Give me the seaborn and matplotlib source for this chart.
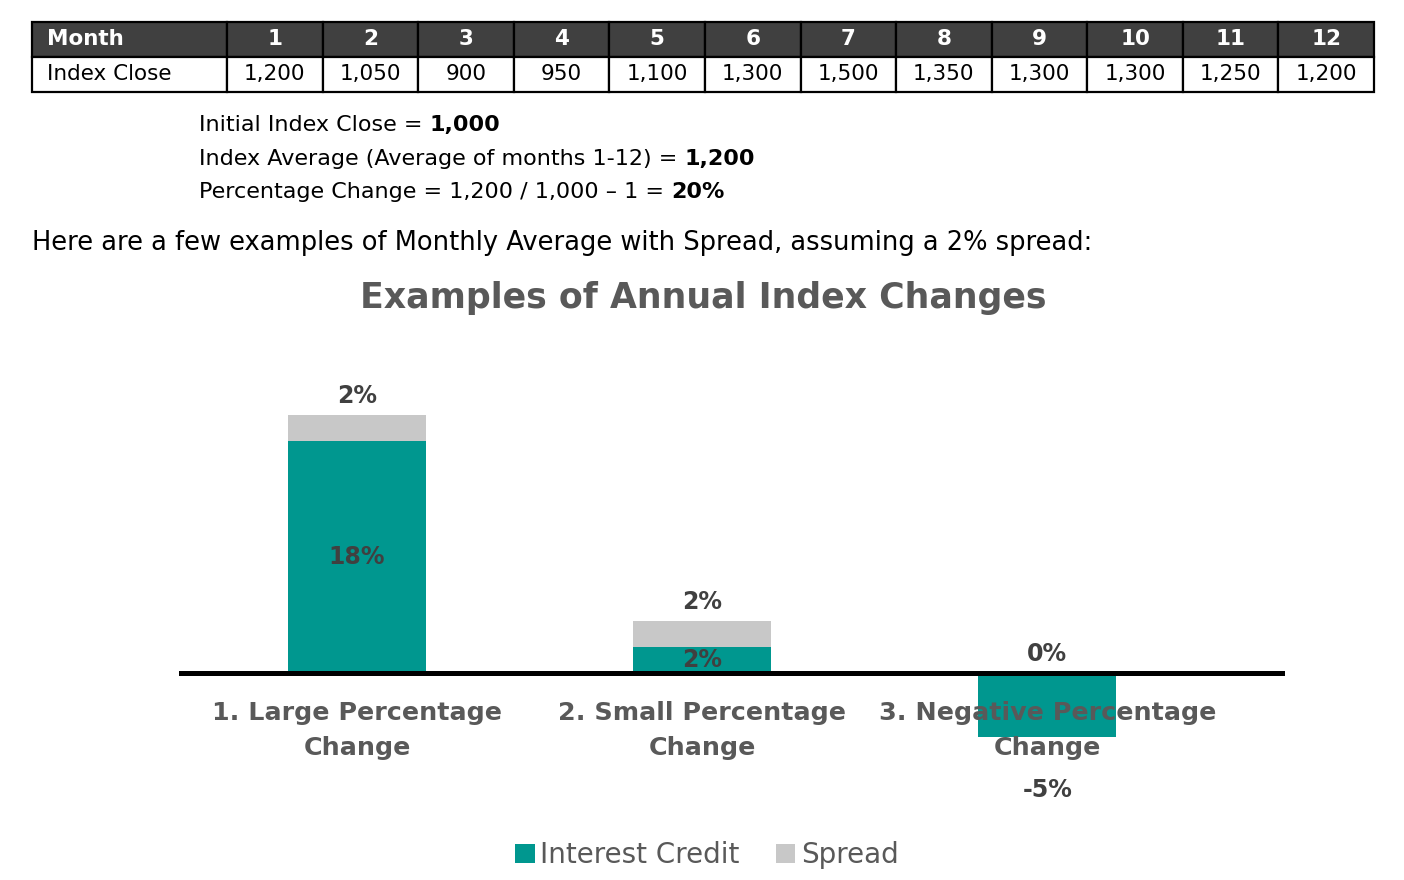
import matplotlib
matplotlib.use("Agg")
import matplotlib.pyplot as plt
import seaborn as sns
import pandas as pd

# ---------------- data ----------------
months = [str(i) for i in range(1, 13)]
index_close = ["1,200", "1,050", "900", "950", "1,100", "1,300",
               "1,500", "1,350", "1,300", "1,300", "1,250", "1,200"]

info_lines = [
    [("Initial Index Close = ", "normal"), ("1,000", "bold")],
    [("Index Average (Average of months 1-12) = ", "normal"), ("1,200", "bold")],
    [("Percentage Change = 1,200 / 1,000 \u2013 1 = ", "normal"), ("20%", "bold")],
]
intro = "Here are a few examples of Monthly Average with Spread, assuming a 2% spread:"
title = "Examples of Annual Index Changes"

categories = ["1. Large Percentage\nChange", "2. Small Percentage\nChange",
              "3. Negative Percentage\nChange"]
interest_credit = [18, 2, -5]
spread = [2, 2, 0]

TEAL = "#00978F"
GREY = "#C8C8C8"
DARK = "#404040"
MID = "#595959"

sns.set_theme(style="white")
plt.rcParams['font.family'] = ['DejaVu Sans']

W, H = 1404, 880
fig = plt.figure(figsize=(W / 100, H / 100), dpi=100)


def fx(px):
    return px / W


def fy(py):
    return 1 - py / H


# ---------------- table ----------------
tax = fig.add_axes([fx(32), fy(92), (1374 - 32) / W, 70 / H])
tax.axis("off")
first_w = 195 / 1342
other_w = (1 - first_w) / 12
tbl = tax.table(cellText=[["Index Close"] + index_close],
                colLabels=["Month"] + months,
                colWidths=[first_w] + [other_w] * 12,
                cellLoc="center", bbox=[0, 0, 1, 1])
tbl.auto_set_font_size(False)
tbl.set_fontsize(15.5)
for (r, c), cell in tbl.get_celld().items():
    cell.set_edgecolor("black")
    cell.set_linewidth(1.6)
    if r == 0:
        cell.set_facecolor("#404040")
        cell.get_text().set_color("white")
        cell.get_text().set_fontweight("bold")
    else:
        cell.set_facecolor("white")
        cell.get_text().set_color("black")
    if c == 0:
        cell.get_text().set_horizontalalignment("left")
        cell._loc = "left"
        cell.PAD = 0.075

# ---------------- text block ----------------
bg = fig.add_axes([0, 0, 1, 1], zorder=-1)
bg.axis("off")
ys = [125, 159, 192]
for parts, y in zip(info_lines, ys):
    t = bg.text(fx(199), fy(y), parts[0][0], fontweight=parts[0][1], fontsize=16,
                va="center", ha="left", color="black", transform=bg.transAxes)
    for s, w in parts[1:]:
        t = bg.annotate(s, xy=(1, 0), xycoords=t, va="bottom", ha="left",
                        fontweight=w, fontsize=16, color="black")

bg.text(fx(32), fy(243), intro, fontsize=18.5, va="center", ha="left",
        color="black", transform=bg.transAxes)
bg.text(fx(703), fy(298), title, fontsize=25, fontweight="bold", va="center",
        ha="center", color=MID, transform=bg.transAxes)

# ---------------- chart ----------------
df = pd.DataFrame({"category": categories,
                   "interest": interest_credit,
                   "spread": spread})
df["total"] = df["interest"] + df["spread"]

ax = fig.add_axes([fx(181), fy(830), (1282 - 181) / W, (830 - 340) / H])
sns.barplot(data=df, x="category", y="total", color=GREY, width=0.4,
            saturation=1, errorbar=None, linewidth=0, ax=ax, label="Spread")
sns.barplot(data=df, x="category", y="interest", color=TEAL, width=0.4,
            saturation=1, errorbar=None, linewidth=0, ax=ax, label="Interest Credit")

handles, labels = ax.get_legend_handles_labels()
if ax.get_legend() is not None:
    ax.get_legend().remove()

ax.set_axisbelow(False)
ax.set_xlim(-0.51, 2.68)
ax.set_ylim(-12.17, 25.8)
ax.set_xlabel("")
ax.set_ylabel("")
ax.set_yticks([])
ax.patch.set_alpha(0)
for s in ["left", "right", "top"]:
    ax.spines[s].set_visible(False)
ax.spines["bottom"].set_position(("data", 0))
ax.spines["bottom"].set_color("black")
ax.spines["bottom"].set_linewidth(3.6)
ax.spines["bottom"].set_zorder(3)
ax.tick_params(axis="x", length=0, pad=20, labelsize=18.3, labelcolor=MID)
for lbl in ax.get_xticklabels():
    lbl.set_fontweight("bold")
    lbl.set_linespacing(1.6)
    lbl.set_zorder(5)

# labels
for i, (ic, sp) in enumerate(zip(interest_credit, spread)):
    top = max(ic, 0) + sp
    ax.annotate(f"{sp}%", xy=(i, top), xytext=(0, 5), textcoords="offset points",
                ha="center", va="bottom", fontsize=17, fontweight="bold", color=DARK)
    if ic >= 0:
        ax.annotate(f"{ic}%", xy=(i, ic / 2), ha="center", va="center",
                    fontsize=17, fontweight="bold", color=DARK)
    else:
        ax.annotate(f"{ic}%", xy=(i, ic), xytext=(0, -38), textcoords="offset points",
                    ha="center", va="center", fontsize=17, fontweight="bold", color=DARK)

order = [labels.index("Interest Credit"), labels.index("Spread")]
leg = fig.legend([handles[k] for k in order], [labels[k] for k in order],
                 loc="center", bbox_to_anchor=(fx(707), fy(855)), ncol=2,
                 frameon=False, fontsize=20, handlelength=0.7, handleheight=0.7,
                 handletextpad=0.2, columnspacing=1.3, labelcolor=MID)

fig.savefig("out.png", dpi=100)
